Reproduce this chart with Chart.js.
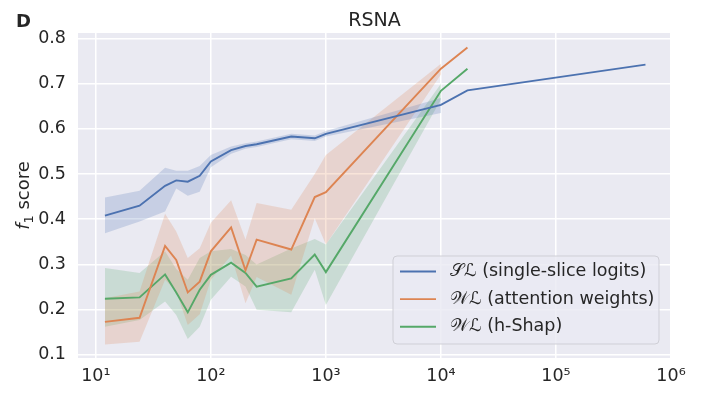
<!DOCTYPE html>
<html>
<head>
<meta charset="utf-8">
<script src="https://cdn.jsdelivr.net/npm/chart.js@4.4.1/dist/chart.umd.min.js"></script>
<style>
  html, body { margin: 0; padding: 0; background: #fff; }
  canvas { display: block; }
</style>
</head>
<body>
<canvas id="chart" width="711" height="393"></canvas>
<script>
// training set sizes (x, log scale)
var slSizes = [12, 24, 40, 50, 63, 80, 100, 150, 200, 250, 500, 800, 1000, 10000, 17000, 600000];
var wlSizes = [12, 24, 40, 50, 63, 80, 100, 150, 200, 250, 500, 800, 1000, 10000, 17000];
var bandSizes = [12, 24, 40, 50, 63, 80, 100, 150, 200, 250, 500, 800, 1000, 10000];

// SL (single-slice logits)
var slMean = [0.408, 0.430, 0.474, 0.486, 0.483, 0.496, 0.528, 0.553, 0.562, 0.566, 0.583, 0.579, 0.589, 0.653, 0.685, 0.742];
var slLow  = [0.369, 0.395, 0.417, 0.468, 0.452, 0.461, 0.515, 0.545, 0.556, 0.560, 0.577, 0.573, 0.583, 0.635];
var slHigh = [0.448, 0.463, 0.514, 0.507, 0.507, 0.518, 0.542, 0.561, 0.568, 0.572, 0.589, 0.585, 0.595, 0.668];

// WL (attention weights)
var attMean = [0.173, 0.182, 0.341, 0.310, 0.238, 0.262, 0.329, 0.382, 0.287, 0.355, 0.333, 0.449, 0.460, 0.733, 0.780];
var attLow  = [0.123, 0.129, 0.266, 0.240, 0.166, 0.190, 0.266, 0.320, 0.214, 0.272, 0.233, 0.402, 0.344, 0.720];
var attHigh = [0.225, 0.240, 0.412, 0.373, 0.314, 0.336, 0.392, 0.442, 0.355, 0.436, 0.421, 0.500, 0.542, 0.744];

// WL (h-Shap)
var shapMean = [0.224, 0.227, 0.278, 0.238, 0.194, 0.244, 0.277, 0.304, 0.281, 0.251, 0.269, 0.322, 0.283, 0.684, 0.733];
var shapLow  = [0.162, 0.177, 0.218, 0.188, 0.135, 0.162, 0.222, 0.273, 0.251, 0.200, 0.194, 0.288, 0.210, 0.665];
var shapHigh = [0.292, 0.281, 0.329, 0.290, 0.266, 0.314, 0.329, 0.334, 0.321, 0.300, 0.335, 0.356, 0.344, 0.700];

var xTicks = [10, 100, 1000, 10000, 100000, 1000000];
var yTicks = [0.1, 0.2, 0.3, 0.4, 0.5, 0.6, 0.7, 0.8];

var blue = '#4C72B0', orange = '#DD8452', green = '#55A868';
var ink = '#262626';
var font = 'DejaVu Sans';

function pts(xs, ys) {
  return ys.map(function (y, i) { return { x: xs[i], y: y }; });
}
function fade(hex, a) {
  var n = parseInt(hex.slice(1), 16);
  return 'rgba(' + (n >> 16) + ',' + ((n >> 8) & 255) + ',' + (n & 255) + ',' + a + ')';
}
function line(data, color) {
  return { data: data, borderColor: color, borderWidth: 1.9, pointRadius: 0, fill: false, order: 0 };
}
function bandLow(data) {
  return { data: data, borderColor: 'transparent', borderWidth: 0, pointRadius: 0, fill: false, order: 1 };
}
function bandHigh(data, color) {
  return { data: data, borderColor: 'transparent', borderWidth: 0, pointRadius: 0, fill: '-1', backgroundColor: fade(color, 0.22), order: 1 };
}

var sup = { 1: '\u00B9', 2: '\u00B2', 3: '\u00B3', 4: '\u2074', 5: '\u2075', 6: '\u2076' };

var legendItems = [
  { script: '\uD835\uDCAE\u2112', text: ' (single-slice logits)', color: blue },
  { script: '\uD835\uDCB2\u2112', text: ' (attention weights)', color: orange },
  { script: '\uD835\uDCB2\u2112', text: ' (h-Shap)', color: green }
];

var decor = {
  id: 'decor',
  beforeDraw: function (chart) {
    var a = chart.chartArea, ctx = chart.ctx;
    ctx.save();
    ctx.fillStyle = '#EAEAF2';
    ctx.fillRect(a.left, a.top, a.right - a.left, a.bottom - a.top);
    ctx.restore();
  },
  afterDraw: function (chart) {
    var a = chart.chartArea, ctx = chart.ctx;
    ctx.save();
    ctx.fillStyle = ink;
    // panel letter
    ctx.font = 'bold 18px ' + font;
    ctx.textBaseline = 'alphabetic';
    ctx.textAlign = 'left';
    ctx.fillText('D', 16, 27);
    // title
    ctx.font = '19px ' + font;
    ctx.textAlign = 'center';
    ctx.fillText('RSNA', (a.left + a.right) / 2, 26);
    // y label
    ctx.save();
    ctx.translate(29, (a.top + a.bottom) / 2);
    ctx.rotate(-Math.PI / 2);
    ctx.textAlign = 'left';
    ctx.font = 'italic 18px ' + font;
    var wf = ctx.measureText('f').width;
    ctx.font = '13px ' + font;
    var w1 = ctx.measureText('1').width;
    ctx.font = '18px ' + font;
    var ws = ctx.measureText(' score').width;
    var x0 = -(wf + w1 + ws) / 2;
    ctx.font = 'italic 18px ' + font;
    ctx.fillText('f', x0, 0);
    ctx.font = '13px ' + font;
    ctx.fillText('1', x0 + wf, 4);
    ctx.font = '18px ' + font;
    ctx.fillText(' score', x0 + wf + w1, 0);
    ctx.restore();
    // legend
    var bx = 393, by = 256, bw = 266, bh = 88, r = 4;
    ctx.beginPath();
    ctx.moveTo(bx + r, by);
    ctx.arcTo(bx + bw, by, bx + bw, by + bh, r);
    ctx.arcTo(bx + bw, by + bh, bx, by + bh, r);
    ctx.arcTo(bx, by + bh, bx, by, r);
    ctx.arcTo(bx, by, bx + bw, by, r);
    ctx.closePath();
    ctx.fillStyle = 'rgba(234,234,242,0.8)';
    ctx.fill();
    ctx.strokeStyle = '#cfcfd6';
    ctx.lineWidth = 1;
    ctx.stroke();
    ctx.textAlign = 'left';
    ctx.textBaseline = 'middle';
    legendItems.forEach(function (it, i) {
      var y = 271.5 + i * 27.6;
      ctx.strokeStyle = it.color;
      ctx.lineWidth = 1.9;
      ctx.beginPath();
      ctx.moveTo(400, y);
      ctx.lineTo(436, y);
      ctx.stroke();
      ctx.fillStyle = ink;
      ctx.font = '17.5px ' + font;
      ctx.fillText(it.script, 450, y);
      var w = ctx.measureText(it.script).width;
      ctx.fillText(it.text, 450 + w, y);
    });
    ctx.restore();
  }
};

new Chart(document.getElementById('chart'), {
  type: 'line',
  data: {
    datasets: [
      line(pts(slSizes, slMean), blue),
      bandLow(pts(bandSizes, slLow)),
      bandHigh(pts(bandSizes, slHigh), blue),
      line(pts(wlSizes, attMean), orange),
      bandLow(pts(bandSizes, attLow)),
      bandHigh(pts(bandSizes, attHigh), orange),
      line(pts(wlSizes, shapMean), green),
      bandLow(pts(bandSizes, shapLow)),
      bandHigh(pts(bandSizes, shapHigh), green)
    ]
  },
  options: {
    responsive: false,
    devicePixelRatio: 1,
    animation: false,
    layout: { padding: { top: 33, right: 40, left: 0, bottom: 0 } },
    plugins: { legend: { display: false }, tooltip: { enabled: false } },
    scales: {
      x: {
        type: 'logarithmic',
        min: 7,
        max: 1000000,
        afterBuildTicks: function (s) { s.ticks = xTicks.map(function (v) { return { value: v }; }); },
        afterFit: function (s) { s.height = 35; },
        grid: { color: '#ffffff', lineWidth: 1.5, drawTicks: false },
        border: { display: false },
        ticks: {
          autoSkip: false, maxRotation: 0, padding: 8, color: ink,
          font: { family: font, size: 17.5 },
          callback: function (v) { return '10' + sup[Math.round(Math.log10(v))]; }
        }
      },
      y: {
        min: 0.093,
        max: 0.812,
        afterBuildTicks: function (s) { s.ticks = yTicks.map(function (v) { return { value: v }; }); },
        afterFit: function (s) { s.width = 78; },
        grid: { color: '#ffffff', lineWidth: 1.5, drawTicks: false },
        border: { display: false },
        ticks: {
          padding: 12, color: ink,
          font: { family: font, size: 17.5 },
          callback: function (v) { return v.toFixed(1); }
        }
      }
    }
  },
  plugins: [decor]
});
</script>
</body>
</html>
